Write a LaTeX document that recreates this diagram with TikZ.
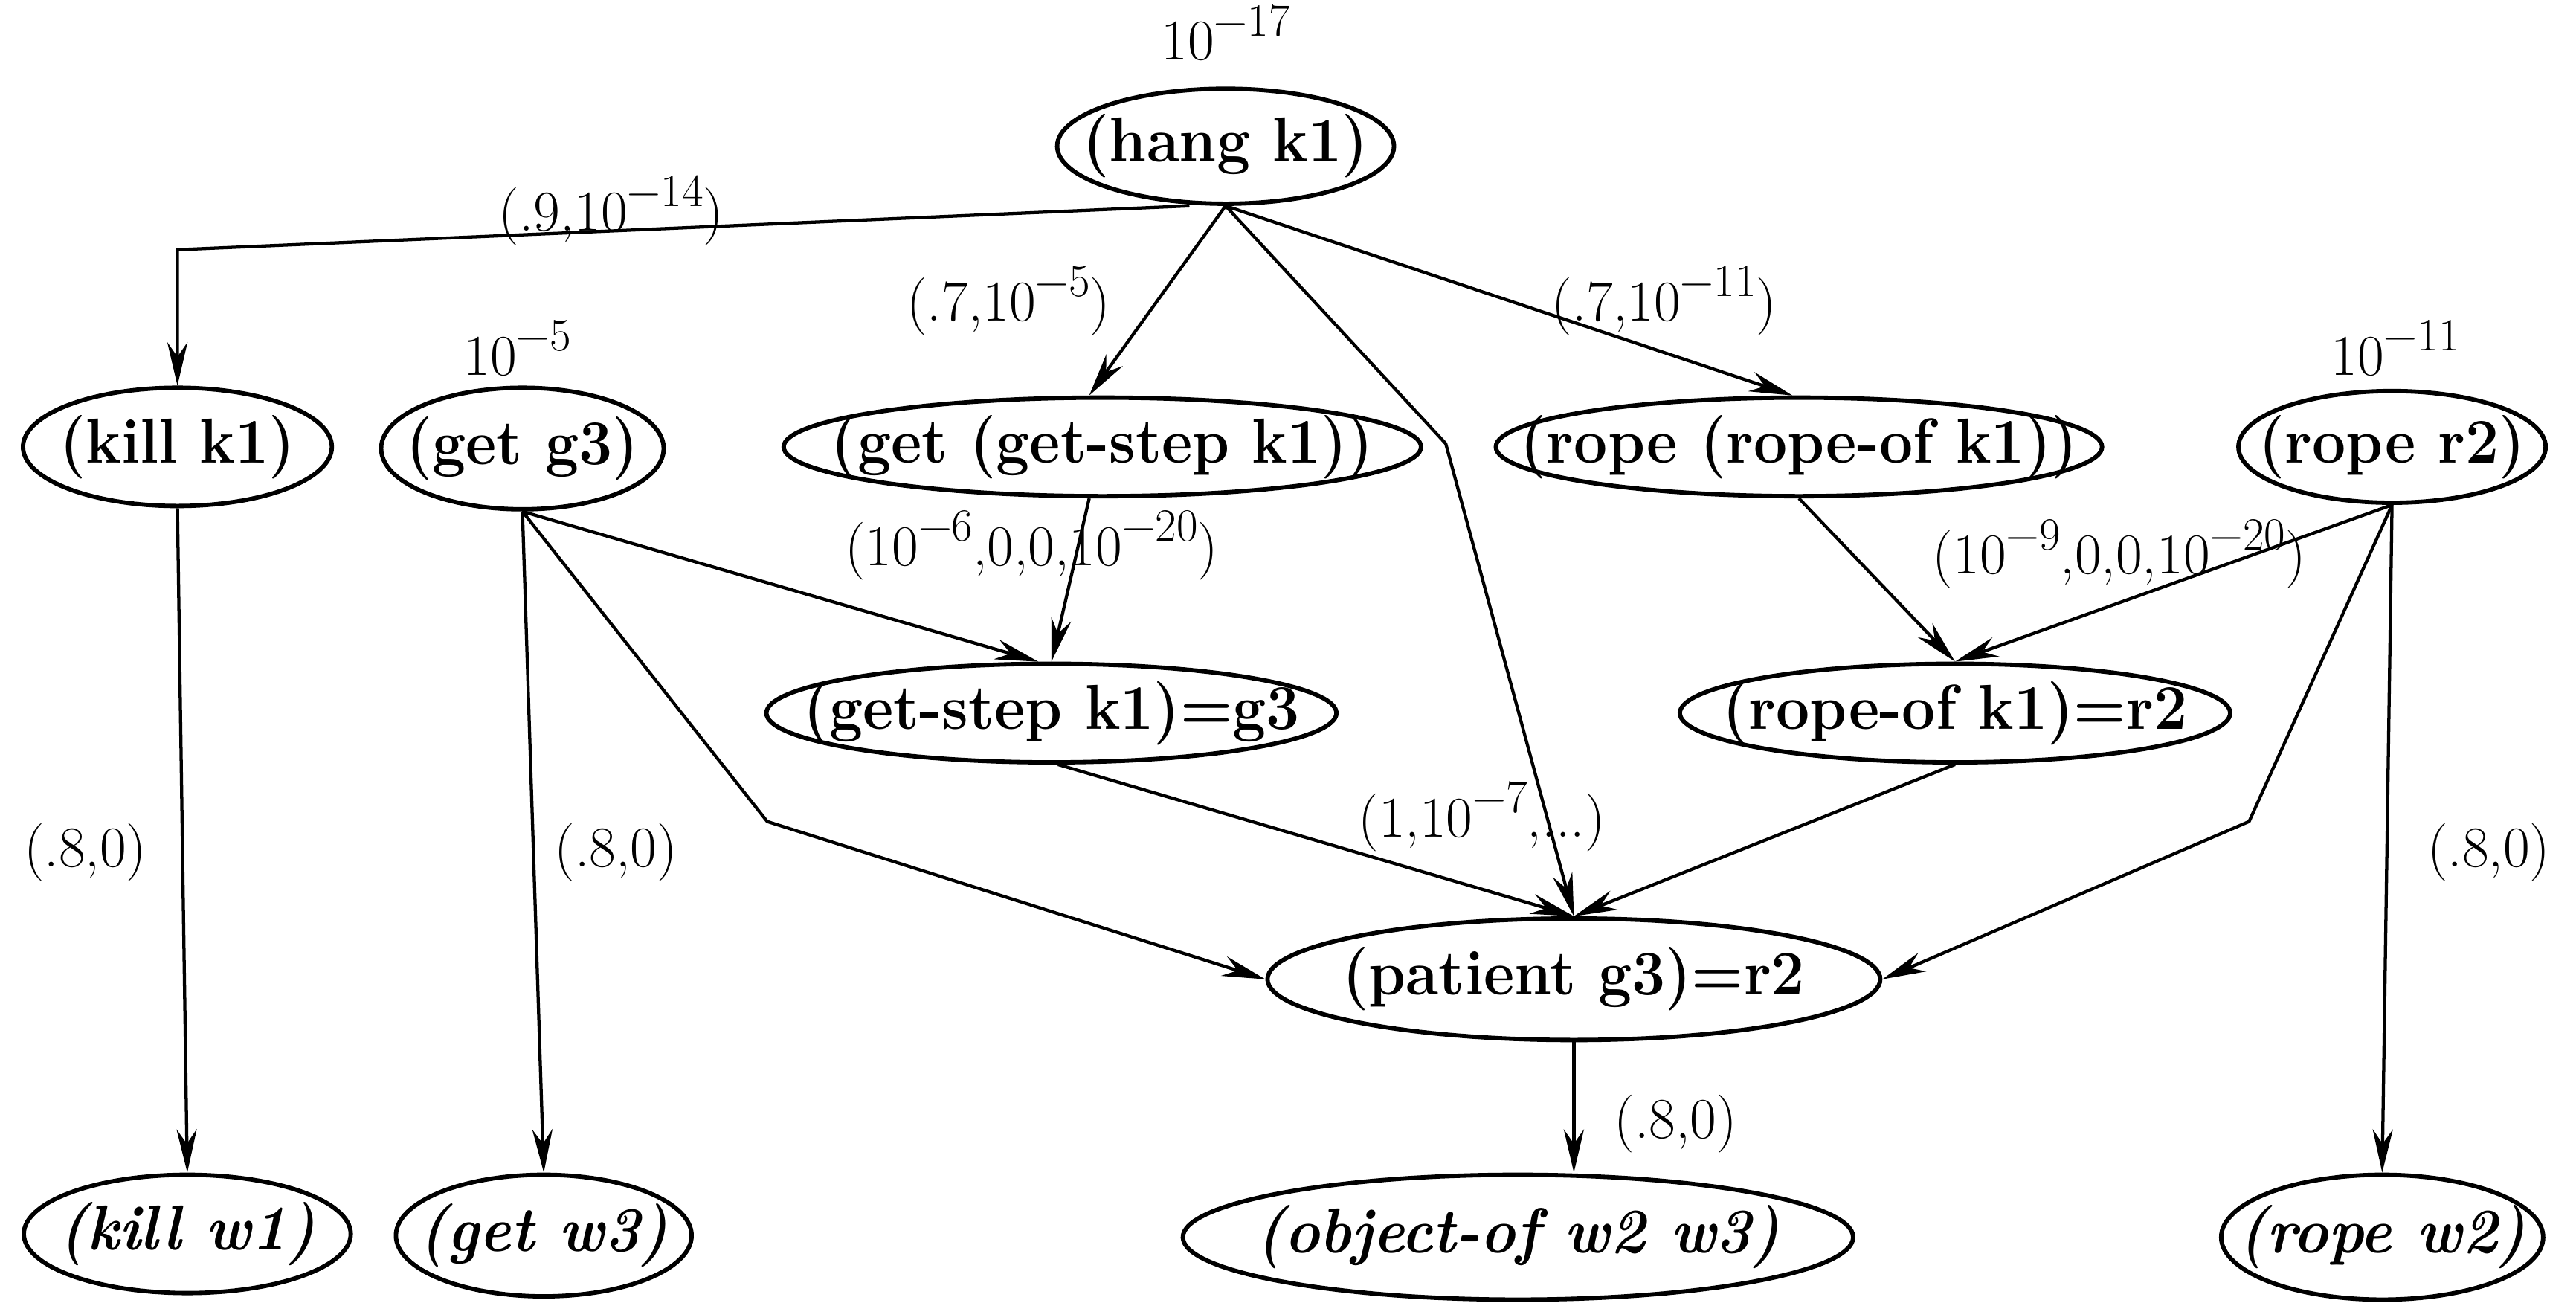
\documentclass[tikz,border=0pt]{standalone}
\usepackage{fontspec}
\usetikzlibrary{shapes.geometric,arrows.meta,calc}
% power of ten with a raised exponent
\newcommand\tenpow[1]{10\raisebox{0.42em}{\fontsize{16}{16}\selectfont −#1}}
% label that does not widen its ellipse
\newcommand\inner[1]{\makebox[0pt]{\scalebox{0.94}[1]{#1}}}

\begin{document}
\begin{tikzpicture}[x=0.02cm,y=-0.02cm,
  sz/.style 2 args={minimum width=#1*0.02cm,minimum height=#2*0.02cm},
  ev/.style={draw,ellipse,inner sep=0pt,line width=1.5pt,
    font=\fontsize{22}{26}\selectfont\bfseries},
  obs/.style={ev,font=\fontsize{22}{26}\selectfont\bfseries\itshape},
  lab/.style={inner sep=0pt,font=\fontsize{20}{24}\selectfont},
  link/.style={line width=1.1pt,line join=miter,
    -{Stealth[length=15pt,width=7pt,inset=5pt]}},
  ]
\useasboundingbox (0,0) rectangle (1568,793);

% hypotheses
\node[ev,sz={205}{70}]  (hang)    at (746,89)   {\inner{(hang k1)}};
\node[ev,sz={188}{72}]  (kill)    at (108,272)  {\inner{(kill k1)}};
\node[ev,sz={172}{74}]  (getg)    at (318,273)  {\inner{(get g3)}};
\node[ev,sz={388}{60}]  (getget)  at (671,272)  {\inner{(get (get-step k1))}};
\node[ev,sz={369}{60}]  (ropeof)  at (1095,272) {\inner{(rope (rope-of k1))}};
\node[ev,sz={187}{68}]  (roper)   at (1456,272) {\inner{(rope r2)}};
\node[ev,sz={347}{60}]  (stepeq)  at (640,434)  {\inner{(get-step k1)=g3}};
\node[ev,sz={335}{60}]  (ropeeq)  at (1190,434) {\inner{(rope-of k1)=r2}};
\node[ev,sz={373}{74}]  (patient) at (958,596)  {\inner{(patient g3)=r2}};

% observations
\node[obs,sz={199}{72}] (killw)   at (114,751)  {\inner{(kill w1)}};
\node[obs,sz={180}{74}] (getw)    at (331,752)  {\inner{(get w3)}};
\node[obs,sz={408}{76}] (objof)   at (924,753)  {\inner{(object-of w2 w3)}};
\node[obs,sz={196}{76}] (ropew)   at (1450,753) {\inner{(rope w2)}};

% prior probabilities
\node[lab] (phang)  at (746,20)   {\tenpow{17}};
\node[lab] (pgetg)  at (315,212)  {\tenpow{5}};
\node[lab] (proper) at (1458,212) {\tenpow{11}};

% bends
\coordinate (kc) at (108,152);
\coordinate (hb) at (880,270);
\coordinate (gb) at (467,500);
\coordinate (rb) at (1369,500);

% links
\draw[link] ($(hang.south)+(-22,0)$) -- (kc) -- (kill.north);
\draw[link] (hang.south) -- ($(getget.north)+(-8,0)$);
\draw[link] (hang.south) -- (hb) -- (patient.north);
\draw[link] (hang.south) -- ($(ropeof.north)+(-4,0)$);
\draw[link] ($(getget.south)+(-8,0)$) -- (stepeq.north);
\draw[link] (getg.south) -- ($(stepeq.north)+(-8,0)$);
\draw[link] (getg.south) -- (gb) -- (patient.west);
\draw[link] (getg.south) -- (getw.north);
\draw[link] (kill.south) -- (killw.north);
\draw[link] ($(stepeq.south)+(4,0)$) -- (patient.north);
\draw[link] (ropeeq.south) -- (patient.north);
\draw[link] (ropeof.south) -- (ropeeq.north);
\draw[link] (roper.south) -- (ropeeq.north);
\draw[link] (roper.south) -- (rb) -- (patient.east);
\draw[link] (roper.south) -- (ropew.north);
\draw[link] (patient.south) -- (patient.south |- objof.north);

% link labels
\node[lab] (l1)  at (372,128)  {(.9,\tenpow{14})};
\node[lab] (l2)  at (614,183)  {(.7,\tenpow{5})};
\node[lab] (l3)  at (1013,183) {(.7,\tenpow{11})};
\node[lab] (l4)  at (628,332)  {(\tenpow{6},0,0,\tenpow{20})};
\node[lab] (l5)  at (1290,337) {(\tenpow{9},0,0,\tenpow{20})};
\node[lab] (l6)  at (902,497)  {(1,\tenpow{7},...)};
\node[lab] (l7)  at (52,519)   {(.8,0)};
\node[lab] (l8)  at (375,519)  {(.8,0)};
\node[lab] (l9)  at (1515,519) {(.8,0)};
\node[lab] (l10) at (1020,684) {(.8,0)};
\end{tikzpicture}
\end{document}
